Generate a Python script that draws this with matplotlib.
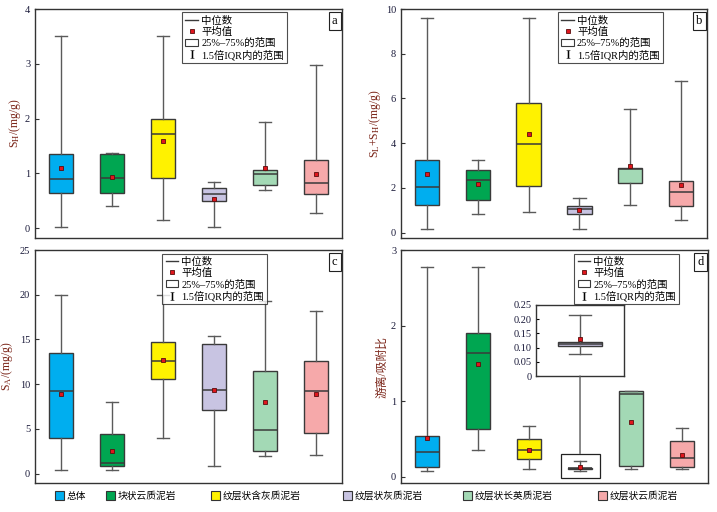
import matplotlib
matplotlib.use("Agg")
from matplotlib import pyplot as plt
from matplotlib.lines import Line2D
from matplotlib.patches import Patch, Rectangle, ConnectionPatch

plt.rcParams['font.family'] = ['Liberation Serif', 'Noto Sans CJK SC']
plt.rcParams['mathtext.fontset'] = 'stix'
plt.rcParams['axes.unicode_minus'] = False

groups = ["总体", "块状云质泥岩", "纹层状含灰质泥岩", "纹层状灰质泥岩", "纹层状长英质泥岩", "纹层状云质泥岩"]
colors = ["#00aeef", "#00a651", "#fff200", "#c8c4e2", "#a3d9b5", "#f6a9aa"]

# each stat: whisker low, Q1, median, Q3, whisker high, mean
sh_stats = [
    (0.02, 0.65, 0.90, 1.35, 3.50, 1.09),
    (0.41, 0.65, 0.92, 1.35, 1.37, 0.93),
    (0.14, 0.92, 1.71, 1.99, 3.50, 1.59),
    (0.02, 0.50, 0.62, 0.73, 0.84, 0.54),
    (0.70, 0.78, 0.98, 1.07, 1.93, 1.10),
    (0.28, 0.62, 0.82, 1.25, 2.97, 0.99),
]
sl_stats = [
    (0.16, 1.24, 2.06, 3.24, 9.58, 2.64),
    (0.82, 1.46, 2.34, 2.81, 3.25, 2.19),
    (0.93, 2.09, 3.97, 5.79, 9.58, 4.39),
    (0.16, 0.84, 1.07, 1.21, 1.57, 0.99),
    (1.24, 2.21, 2.84, 2.91, 5.52, 2.97),
    (0.57, 1.19, 1.81, 2.30, 6.78, 2.13),
]
sa_stats = [
    (0.45, 3.95, 9.24, 13.45, 20.0, 8.90),
    (0.45, 0.86, 1.15, 4.47, 8.05, 2.53),
    (3.95, 10.54, 12.59, 14.75, 20.0, 12.70),
    (0.82, 7.12, 9.31, 14.46, 15.35, 9.39),
    (2.01, 2.53, 4.88, 11.44, 19.26, 8.05),
    (2.09, 4.51, 9.20, 12.63, 18.22, 8.94),
]
ratio_stats = [
    (0.08, 0.13, 0.33, 0.54, 2.78, 0.51),
    (0.35, 0.63, 1.64, 1.90, 2.78, 1.49),
    (0.11, 0.24, 0.36, 0.50, 0.67, 0.36),
    (0.079, 0.104, 0.112, 0.121, 0.216, 0.129),
    (0.11, 0.15, 1.10, 1.13, 1.14, 0.73),
    (0.11, 0.13, 0.25, 0.47, 0.65, 0.29),
]

ylabels = ["S$_\\mathrm{H}$/(mg/g)", "S$_\\mathrm{L}$+S$_\\mathrm{H}$/(mg/g)",
           "S$_\\mathrm{A}$/(mg/g)", "游离/吸附比"]
panel_letters = ["a", "b", "c", "d"]

edge = "#3a3a3a"
wcol = "#5a5a5a"
fs = 7.5


def to_bxp(stats):
    out = []
    for lo, q1, med, q3, hi, mean in stats:
        out.append(dict(whislo=lo, q1=q1, med=med, q3=q3, whishi=hi, mean=mean, fliers=[]))
    return out


def draw_boxes(ax, stats, positions, width, clist):
    bp = ax.bxp(to_bxp(stats), positions=positions, widths=width, patch_artist=True,
                showmeans=True, showfliers=False,
                boxprops=dict(edgecolor=edge, linewidth=1.0),
                medianprops=dict(color=edge, linewidth=1.1),
                whiskerprops=dict(color=wcol, linewidth=1.0),
                capprops=dict(color=wcol, linewidth=1.0),
                meanprops=dict(marker='s', markersize=3.2, markerfacecolor='#e0161d',
                               markeredgecolor='#5a0d0d', markeredgewidth=0.6))
    for patch, c in zip(bp['boxes'], clist):
        patch.set_facecolor(c)
    return bp


fig = plt.figure(figsize=(7.17, 5.12), dpi=100)
rects = [
    [0.0488, 0.5352, 0.4282, 0.4472],
    [0.5593, 0.5352, 0.4268, 0.4472],
    [0.0488, 0.0566, 0.4282, 0.4551],
    [0.5593, 0.0566, 0.4282, 0.4551],
]
ylims = [(-0.18, 4.0), (-0.24, 10.0), (-1.05, 25.0), (-0.08, 3.0)]
yticks = [[0, 1, 2, 3, 4], [0, 2, 4, 6, 8, 10], [0, 5, 10, 15, 20, 25], [0, 1, 2, 3]]
label_x = [-0.04, -0.06, -0.064, -0.04]
legend_anchor = [(0.82, 0.985), (0.855, 0.985), (0.755, 0.985), (0.905, 0.985)]
all_stats = [sh_stats, sl_stats, sa_stats, ratio_stats]
positions = list(range(1, 7))

legend_handles = [
    Line2D([0], [0], color=edge, lw=1.0),
    Line2D([0], [0], marker='s', color='none', markersize=3.2, markerfacecolor='#e0161d',
           markeredgecolor='#5a0d0d', markeredgewidth=0.6),
    Patch(facecolor='white', edgecolor=edge, linewidth=0.8),
    Line2D([0], [0], marker='$\\mathrm{I}$', color='none', markersize=6,
           markerfacecolor='black', markeredgecolor='black', markeredgewidth=0.1),
]
legend_labels = ["中位数", "平均值", "25%–75%的范围", "1.5倍IQR内的范围"]

axes = []
for i in range(4):
    ax = fig.add_axes(rects[i])
    axes.append(ax)
    draw_boxes(ax, all_stats[i], positions, 0.48, colors)
    ax.set_xlim(0.49, 6.51)
    ax.set_ylim(*ylims[i])
    ax.set_yticks(yticks[i])
    ax.set_xticks([])
    ax.tick_params(axis='y', direction='in', length=3, labelsize=fs, pad=3.5, colors='#333333',
                   labelcolor='#1a1a3a')
    for sp in ax.spines.values():
        sp.set_color('#333333')
        sp.set_linewidth(1.0)
    ax.set_ylabel(ylabels[i], fontsize=8.5, color='#7a2418')
    ax.yaxis.set_label_coords(label_x[i], 0.5)
    leg = ax.legend(legend_handles, legend_labels, loc='upper right',
                    bbox_to_anchor=legend_anchor[i], fontsize=fs, frameon=True,
                    fancybox=False, edgecolor='#222222', handlelength=1.2,
                    handletextpad=0.3, borderpad=0.3, labelspacing=0.12,
                    borderaxespad=0.0)
    leg.get_frame().set_linewidth(0.8)
    ax.text(0.985, 0.975, panel_letters[i], transform=ax.transAxes, ha='right', va='top',
            fontsize=9, bbox=dict(boxstyle='square,pad=0.25', facecolor='white',
                                  edgecolor='#222222', linewidth=0.8))

# inset zoom for the laminated limy mudstone ratio box
axd = axes[3]
rect_lo, rect_hi = -0.01, 0.31
axd.add_patch(Rectangle((3.63, rect_lo), 0.76, rect_hi - rect_lo, fill=False,
                        edgecolor='#222222', linewidth=0.9, zorder=5))
axin = fig.add_axes([0.7476, 0.2656, 0.1227, 0.1387])
draw_boxes(axin, [ratio_stats[3]], [1], 0.49, [colors[3]])
axin.set_xlim(0.5, 1.5)
axin.set_ylim(0, 0.25)
axin.set_yticks([0, 0.05, 0.10, 0.15, 0.20, 0.25])
axin.set_yticklabels(["0", "0.05", "0.10", "0.15", "0.20", "0.25"])
axin.set_xticks([])
axin.tick_params(axis='y', direction='in', length=2, labelsize=fs, pad=3, labelcolor='#1a1a3a')
for sp in axin.spines.values():
    sp.set_color('#333333')
    sp.set_linewidth(1.0)
con = ConnectionPatch(xyA=(1.0, 0.0), coordsA=axin.transData,
                      xyB=(4.0, rect_hi), coordsB=axd.transData,
                      color=wcol, linewidth=1.0)
fig.add_artist(con)

# group legend along the bottom, one entry per spot
entry_x = [58, 109, 214, 346, 466, 601]
for c, name, xp in zip(colors, groups, entry_x):
    fig.legend([Patch(facecolor=c, edgecolor='#333333', linewidth=0.8)], [name],
               loc='center left', bbox_to_anchor=(xp / 717 - 0.004, 1 - 496 / 512),
               frameon=False, fontsize=7, handlelength=0.95, handleheight=0.95,
               handletextpad=0.25, borderpad=0.0, borderaxespad=0.0)

plt.savefig('out.png', dpi=100)
plt.close()
